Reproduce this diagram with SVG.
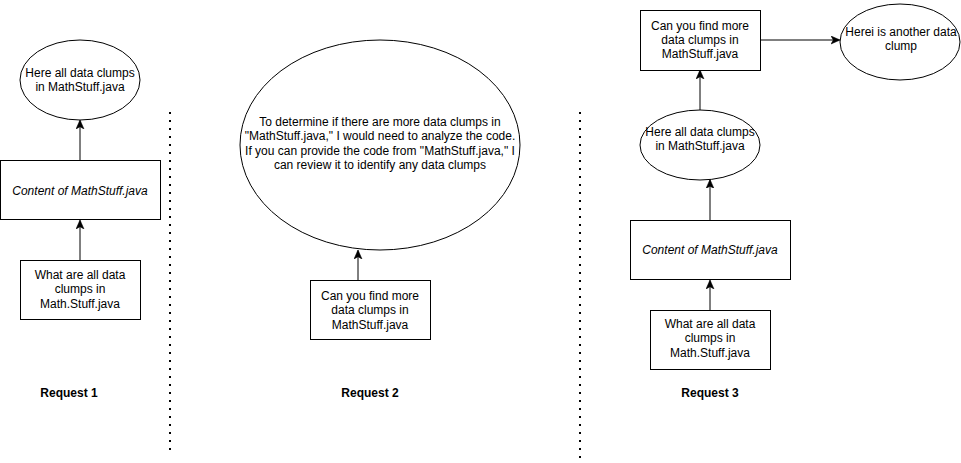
<svg xmlns="http://www.w3.org/2000/svg" width="961" height="463" viewBox="0 0 961 463">
<style>
.shape{fill:#fff;stroke:#000;stroke-width:1}
.t{font-family:"Liberation Sans",Arial,sans-serif;font-size:12px;fill:#000;text-anchor:middle}
.i{font-style:italic}
.b{font-weight:bold}
.edge{stroke:#000;stroke-width:1;fill:none;marker-end:url(#arr)}
.sep{stroke:#000;stroke-width:2;stroke-dasharray:2 6;fill:none}
</style>
<defs>
<marker id="arr" viewBox="0 0 8 8" refX="7.5" refY="4" markerWidth="9" markerHeight="9" markerUnits="userSpaceOnUse" orient="auto">
<path d="M0,0.5 L8,4 L0,7.5 L2,4 Z" fill="#000" stroke="#000" stroke-width="0.5"/>
</marker>
</defs>
<rect width="961" height="463" fill="#fff"/>

<g id="separators">
<line class="sep" x1="170" y1="112" x2="170" y2="452"/>
<line class="sep" x1="580" y1="112" x2="580" y2="462"/>
</g>

<g id="connectors">
<line class="edge" x1="80" y1="260" x2="80" y2="220.5"/>
<line class="edge" x1="80" y1="160" x2="80" y2="120.5"/>
<line class="edge" x1="358" y1="280" x2="358" y2="250.5"/>
<line class="edge" x1="710" y1="310" x2="710" y2="280.5"/>
<line class="edge" x1="710" y1="220" x2="710" y2="180"/>
<line class="edge" x1="700" y1="110" x2="700" y2="70.5"/>
<line class="edge" x1="760" y1="40" x2="839.5" y2="40"/>
</g>

<g id="r1-question">
<rect class="shape" x="20.5" y="260.5" width="120" height="59"/>
<text class="t" x="80" y="279">What are all data</text>
<text class="t" x="80" y="293.4">clumps in</text>
<text class="t" x="80" y="307.8">Math.Stuff.java</text>
</g>
<g id="r1-content">
<rect class="shape" x="0.5" y="160.5" width="160" height="59"/>
<text class="t i" x="80" y="195">Content of MathStuff.java</text>
</g>
<g id="r1-answer">
<ellipse class="shape" cx="80" cy="80" rx="60" ry="40"/>
<text class="t" x="80" y="77">Here all data clumps</text>
<text class="t" x="80" y="91.4">in MathStuff.java</text>
</g>
<g id="r1-label">
<text class="t b" x="69" y="397">Request 1</text>
</g>

<g id="r2-question">
<rect class="shape" x="310.5" y="280.5" width="120" height="59"/>
<text class="t" x="370" y="300">Can you find more</text>
<text class="t" x="370" y="314.4">data clumps in</text>
<text class="t" x="370" y="328.8">MathStuff.java</text>
</g>
<g id="r2-answer">
<ellipse class="shape" cx="380" cy="145" rx="140" ry="105"/>
<text class="t" x="380" y="126">To determine if there are more data clumps in</text>
<text class="t" x="380" y="140.4">"MathStuff.java," I would need to analyze the code.</text>
<text class="t" x="380" y="154.8">If you can provide the code from "MathStuff.java," I</text>
<text class="t" x="380" y="169.2">can review it to identify any data clumps</text>
</g>
<g id="r2-label">
<text class="t b" x="370" y="397">Request 2</text>
</g>

<g id="r3-question">
<rect class="shape" x="650.5" y="310.5" width="120" height="59"/>
<text class="t" x="710" y="328">What are all data</text>
<text class="t" x="710" y="342.4">clumps in</text>
<text class="t" x="710" y="356.8">Math.Stuff.java</text>
</g>
<g id="r3-content">
<rect class="shape" x="630.5" y="220.5" width="160" height="59"/>
<text class="t i" x="710" y="254">Content of MathStuff.java</text>
</g>
<g id="r3-answer">
<ellipse class="shape" cx="700" cy="145" rx="60" ry="35"/>
<text class="t" x="700" y="136">Here all data clumps</text>
<text class="t" x="700" y="150.4">in MathStuff.java</text>
</g>
<g id="r3-followup">
<rect class="shape" x="640.5" y="10.5" width="120" height="60"/>
<text class="t" x="700" y="29.5">Can you find more</text>
<text class="t" x="700" y="43.9">data clumps in</text>
<text class="t" x="700" y="58.3">MathStuff.java</text>
</g>
<g id="r3-another">
<ellipse class="shape" cx="900" cy="42" rx="60" ry="38"/>
<text class="t" x="901" y="36">Herei is another data</text>
<text class="t" x="901" y="50.4">clump</text>
</g>
<g id="r3-label">
<text class="t b" x="710" y="397">Request 3</text>
</g>
</svg>
